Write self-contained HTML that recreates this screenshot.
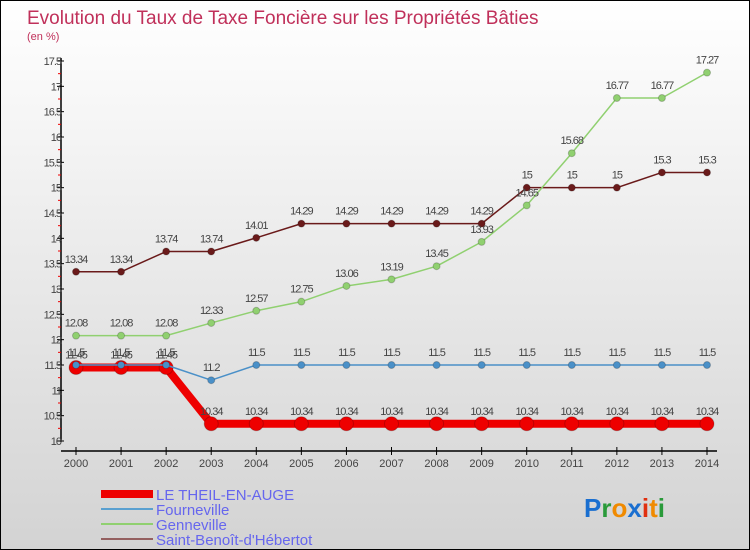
<!DOCTYPE html>
<html><head><meta charset="utf-8"><style>
body{margin:0}
#c{width:750px;height:550px;position:relative;box-sizing:border-box;border:1px solid #000;background:linear-gradient(#fff,#d3d3d3);font-family:"Liberation Sans",sans-serif;overflow:hidden}
svg text{font-family:"Liberation Sans",sans-serif}
</style></head><body>
<div id="c">
<svg id="s" width="750" height="550">
<text x="26" y="23" font-size="19" fill="#c0305a">Evolution du Taux de Taxe Foncière sur les Propriétés Bâties</text>
<text x="26" y="39" font-size="11" fill="#c0305a">(en %)</text>
<g id="axes"></g><g id="series"></g>
<g>
<line x1="100" y1="493" x2="152" y2="493" stroke="#e00" stroke-width="8"/>
<text x="155" y="499" font-size="15" fill="#6666ee">LE THEIL-EN-AUGE</text>
<line x1="100" y1="508" x2="152" y2="508" stroke="#5aa0d0" stroke-width="2"/>
<text x="155" y="514" font-size="15" fill="#6666ee">Fourneville</text>
<line x1="100" y1="523" x2="152" y2="523" stroke="#90d070" stroke-width="2"/>
<text x="155" y="529" font-size="15" fill="#6666ee">Genneville</text>
<line x1="100" y1="538" x2="152" y2="538" stroke="#946060" stroke-width="2"/>
<text x="155" y="544" font-size="15" fill="#6666ee">Saint-Benoît-d'Hébertot</text>
</g>
<text x="583" y="516" font-size="26" font-weight="bold"><tspan fill="#1a6fd0">P</tspan><tspan fill="#2a9a3a">r</tspan><tspan fill="#f08a00">o</tspan><tspan fill="#1a6fd0">x</tspan><tspan fill="#e03010">i</tspan><tspan fill="#f08a00">t</tspan><tspan fill="#2a9a3a">i</tspan></text>
</svg></div>
<script>
const years=[2000,2001,2002,2003,2004,2005,2006,2007,2008,2009,2010,2011,2012,2013,2014];
const theil=[11.45,11.45,11.45,10.34,10.34,10.34,10.34,10.34,10.34,10.34,10.34,10.34,10.34,10.34,10.34];
const fourneville=[11.5,11.5,11.5,11.2,11.5,11.5,11.5,11.5,11.5,11.5,11.5,11.5,11.5,11.5,11.5];
const genneville=[12.08,12.08,12.08,12.33,12.57,12.75,13.06,13.19,13.45,13.93,14.65,15.68,16.77,16.77,17.27];
const stbenoit=[13.34,13.34,13.74,13.74,14.01,14.29,14.29,14.29,14.29,14.29,15,15,15,15.3,15.3];
const yTicks=[10,10.5,11,11.5,12,12.5,13,13.5,14,14.5,15,15.5,16,16.5,17,17.5];
const NS='http://www.w3.org/2000/svg';
const X=i=>75+i*(631/14);
const Y=v=>440-(v-10)*(380/7.5);
function mk(tag,attrs,parent){const e=document.createElementNS(NS,tag);for(const k in attrs)e.setAttribute(k,attrs[k]);parent.appendChild(e);return e;}
const ax=document.getElementById('axes');
let a=mk('line',{x1:60,y1:57,x2:60,y2:441,stroke:'#000','stroke-width':1.5},ax);


yTicks.forEach((v,i)=>{
 let t=mk('line',{x1:56,y1:Y(v),x2:63,y2:Y(v),stroke:'#000'},ax);
 
 
 let l=mk('text',{x:60,y:Y(v)+4,'font-size':11,fill:'#444','text-anchor':'end','letter-spacing':'-1'},ax);
 l.textContent=String(v);
 
 
 if(i<yTicks.length-1){let m=mk('line',{x1:57,y1:Y(v+0.25),x2:60,y2:Y(v+0.25),stroke:'#e00'},ax);
 
 }
});
a=mk('line',{x1:60,y1:450,x2:716,y2:450,stroke:'#000','stroke-width':1.5},ax);


years.forEach((y,i)=>{
 let t=mk('line',{x1:X(i),y1:446,x2:X(i),y2:454,stroke:'#000'},ax);
 
 
 let l=mk('text',{x:X(i),y:466,'font-size':11,fill:'#444','text-anchor':'middle'},ax);
 l.textContent=y;
 
 
});
const sg=document.getElementById('series');
function draw(vals,color,w,r,name,labels){
 const g=mk('g',{},sg);
 
 
 const p=mk('polyline',{points:vals.map((v,i)=>X(i)+','+Y(v)).join(' '),fill:'none',stroke:color,'stroke-width':w,'stroke-linejoin':'round'},g);
 
 
 vals.forEach((v,i)=>{
  const c=mk('circle',{cx:X(i),cy:Y(v),r:r,fill:color,stroke:'rgba(0,0,0,0.2)'},g);
  
  
  const t=mk('text',{x:X(i),y:Y(v)-9,'font-size':11,fill:'#444','text-anchor':'middle','letter-spacing':'-1'},g);
  t.textContent=String(v);
  
  
 });
}
draw(stbenoit,'#6a1a1a',1.5,3.5,'saint-benoit');
draw(genneville,'#90d070',1.5,3.5,'genneville');
draw(theil,'#ee0000',8,7,'theil');
draw(fourneville,'#4a90c8',1.5,3.5,'fourneville');
</script>
</body></html>
